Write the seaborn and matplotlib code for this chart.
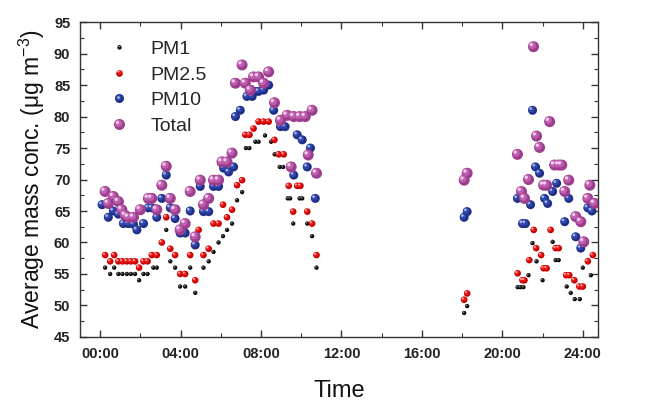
import numpy as np
import pandas as pd
import matplotlib
matplotlib.use("Agg")
import matplotlib.pyplot as plt
import seaborn as sns
from matplotlib.transforms import offset_copy
from matplotlib.legend_handler import HandlerBase
from matplotlib.lines import Line2D
from matplotlib.ticker import MultipleLocator

# ---------------- data (hours of day, ug m-3) ----------------
pm1_t = [0.25, 0.5, 0.7, 0.91, 1.11, 1.33, 1.53, 1.74, 1.94, 2.16, 2.36, 2.65, 2.82,
         3.29, 3.49, 3.73, 3.98, 4.23, 4.48, 4.73, 5.14, 5.4, 5.64, 5.89, 6.11, 6.31,
         6.56, 6.81, 7.06, 7.25, 7.42, 7.72, 7.88, 8.2, 8.5, 8.68, 8.93, 9.1, 9.33,
         9.45, 9.6, 9.92, 10.05, 10.3, 10.54, 10.76,
         18.1, 18.25,
         20.76, 20.9, 21.05, 21.3, 21.5, 21.7, 22.0, 22.5, 22.65, 22.8, 23.2, 23.4,
         23.6, 23.85, 24.0, 24.25, 24.4]
pm1_v = [56, 55, 56, 55, 55, 55, 55, 55, 54, 55, 55, 56, 56,
         62, 57, 56, 53, 53, 56, 52, 56, 57, 58.5, 60, 61, 62,
         63, 66.7, 68, 75, 75, 76, 76, 77, 76, 74, 72, 72, 67,
         67, 63, 67, 67, 63, 61, 56,
         48.8, 49.9,
         52.9, 52.9, 52.9, 54.8, 59.9, 57.0, 54.0, 60.1, 57.2, 57.2, 53.0, 52.0,
         51.0, 51.0, 56.0, 57.2, 54.8]

pm25_t = [0.25, 0.5, 0.7, 0.91, 1.11, 1.33, 1.53, 1.74, 1.94, 2.16, 2.36, 2.57, 2.82,
          3.07, 3.29, 3.49, 3.73, 3.98, 4.23, 4.48, 4.73, 4.9, 5.14, 5.4, 5.64, 5.89,
          6.11, 6.31, 6.56, 6.81, 7.06, 7.22, 7.43, 7.63, 7.88, 8.13, 8.38, 8.67, 8.88,
          9.13, 9.38, 9.6, 9.8, 9.96, 10.3, 10.54, 10.76,
          18.1, 18.25,
          20.76, 21.0, 21.1, 21.34, 21.56, 21.68, 21.93, 22.05, 22.2, 22.4, 22.65, 22.8,
          23.17, 23.33, 23.58, 23.83, 24.0, 24.25, 24.5]
pm25_v = [58, 57, 58, 57, 57, 57, 57, 57, 56, 57, 57, 58, 58,
          60, 64, 59, 58, 55, 55, 58, 54, 62, 58, 59, 63, 63,
          66, 64, 65.2, 69.1, 69.9, 77.1, 77.1, 78.1, 79.2, 79.2, 79.2, 76.3, 74,
          74, 69, 64.9, 69, 69, 64.9, 63, 58,
          50.9, 51.9,
          55.1, 54, 54, 57.2, 62, 59.1, 58, 55.9, 55.9, 62, 59.1, 59.1,
          54.8, 54.8, 54, 53, 53, 57, 58]

pm10_t = [0.1, 0.41, 0.66, 0.91, 1.16, 1.41, 1.66, 1.83, 2.16, 2.4, 2.57, 2.82, 3.07,
          3.29, 3.49, 3.73, 3.98, 4.23, 4.48, 4.73, 4.98, 5.14, 5.4, 5.64, 5.89, 6.14,
          6.39, 6.64, 6.73, 6.97, 7.3, 7.56, 7.72, 7.88, 8.13, 8.38, 8.63, 8.97, 9.2,
          9.63, 9.8, 10.05, 10.3, 10.46, 10.7,
          18.1, 18.25,
          20.75, 21.0, 21.15, 21.4, 21.5, 21.65, 21.85, 22.1, 22.25, 22.5, 22.7, 23.1,
          23.3, 23.65, 23.9, 24.25, 24.45]
pm10_v = [66, 64, 65, 64.5, 63, 63, 62.9, 62, 63, 65.5, 65.5, 64, 67,
          70.7, 65.5, 63.8, 61.5, 61.5, 65, 59.6, 68.9, 64.9, 64.9, 68.9, 68.9, 71.8,
          71.2, 72, 80, 81, 83.2, 83.2, 84, 84, 84.2, 85, 81, 78.4, 78.4,
          70.7, 77.1, 76.3, 72, 75, 67,
          64.0, 64.9,
          67, 63, 63, 66, 81, 72, 71, 67, 66.2, 68.1, 69.4, 63.3,
          67, 60.9, 59.1, 65.5, 65]

tot_t = [0.25, 0.41, 0.66, 0.91, 1.08, 1.25, 1.41, 1.66, 2.0, 2.4, 2.57, 2.82, 3.07,
         3.29, 3.49, 3.73, 3.98, 4.23, 4.48, 4.73, 4.98, 5.14, 5.4, 5.64, 5.89, 6.06,
         6.31, 6.56, 6.73, 7.06, 7.22, 7.47, 7.63, 7.88, 8.13, 8.38, 8.67, 8.97, 9.3,
         9.5, 9.63, 9.93, 10.2, 10.35, 10.54, 10.76,
         18.1, 18.25,
         20.75, 20.95, 21.1, 21.3, 21.55, 21.7, 21.85, 22.05, 22.2, 22.35, 22.6, 22.8,
         22.95, 23.1, 23.3, 23.65, 23.9, 24.05, 24.25, 24.35, 24.58]
tot_v = [68.1, 66.2, 67.3, 66.5, 65.2, 64.3, 64, 64, 65.2, 67, 67, 65.2, 69.1,
         72.1, 67, 65.2, 62, 63, 68.1, 60.9, 69.9, 66, 67, 69.9, 69.9, 72.8,
         72.8, 74.2, 85.3, 88.2, 85.3, 84.2, 86.3, 86.3, 85.3, 87.1, 82.2, 79.4, 80.2,
         72, 80, 80, 80, 73.9, 81, 71,
         69.9, 71.0,
         74, 68.1, 67, 70, 91.1, 76.9, 75.1, 69.1, 69.1, 79.2, 72.3, 72.3,
         72.3, 68.1, 69.9, 64.1, 63.3, 60.1, 67, 69.1, 66.2]

labels = ["PM1", "PM2.5", "PM10", "Total"]
xtick_labels = ["00:00", "04:00", "08:00", "12:00", "16:00", "20:00", "24:00"]

# ---------------- style ----------------
sns.set_theme(style="ticks")
plt.rcParams['font.family'] = ['Liberation Sans', 'DejaVu Sans']
plt.rcParams['mathtext.fontset'] = 'custom'
plt.rcParams['mathtext.rm'] = 'Liberation Sans'
plt.rcParams['mathtext.default'] = 'regular'

# (base, mid, highlight, diameter px)
styles = {
    "PM1":   ("#000000", "#2a2a2a", "#9a9a9a", 4.3),
    "PM2.5": ("#c80000", "#ee1c1c", "#ffb4b4", 6.6),
    "PM10":  ("#1f2f86", "#3048ad", "#a8b6e6", 9.0),
    "Total": ("#9c3d8d", "#bd5eae", "#f3cdea", 11.0),
}
data = {"PM1": (pm1_t, pm1_v), "PM2.5": (pm25_t, pm25_v),
        "PM10": (pm10_t, pm10_v), "Total": (tot_t, tot_v)}

df = pd.concat([pd.DataFrame({"time": data[k][0], "conc": data[k][1], "series": k})
                for k in labels], ignore_index=True)

fig = plt.figure(figsize=(6.45, 4.03), dpi=100)
ax = fig.add_axes([0.124, 0.164, 0.803, 0.781])

pt = 72.0 / fig.dpi
z = 3
for k in labels:
    base, mid, hl, d = styles[k]
    sub = df[df.series == k]
    dpt = d * pt
    sns.scatterplot(data=sub, x="time", y="conc", color=base, s=dpt ** 2,
                    edgecolor="none", linewidth=0, ax=ax, legend=False, zorder=z)
    tr1 = offset_copy(ax.transData, fig=fig, x=-0.12 * dpt, y=0.12 * dpt, units="points")
    ax.scatter(sub.time, sub.conc, s=(0.68 * dpt) ** 2, color=mid, edgecolor="none",
               transform=tr1, zorder=z + 0.1)
    tr2 = offset_copy(ax.transData, fig=fig, x=-0.2 * dpt, y=0.2 * dpt, units="points")
    ax.scatter(sub.time, sub.conc, s=(0.3 * dpt) ** 2, color=hl, edgecolor="none",
               transform=tr2, zorder=z + 0.2)
    z += 1

ax.set_xlim(-1, 24.75)
ax.set_ylim(45, 95)
ax.xaxis.set_major_locator(MultipleLocator(4))
ax.xaxis.set_minor_locator(MultipleLocator(2))
ax.set_xticks(range(0, 25, 4))
ax.set_xticklabels(xtick_labels)
ax.yaxis.set_major_locator(MultipleLocator(5))
ax.yaxis.set_minor_locator(MultipleLocator(2.5))
ax.tick_params(which="both", direction="in", top=True, right=True, color="#333333")
ax.tick_params(which="major", length=5, width=1, labelsize=10.5, pad=7)
ax.tick_params(which="minor", length=3, width=0.8)
for lab in ax.get_xticklabels() + ax.get_yticklabels():
    lab.set_fontweight("bold")
    lab.set_color("#222222")
for s in ax.spines.values():
    s.set_color("#333333")
    s.set_linewidth(1.0)

ax.set_xlabel("Time", fontsize=17, labelpad=14, color="#111111")
ax.set_ylabel("Average mass conc. (μg m$^{-3}$)", fontsize=16.5, labelpad=5, color="#111111")


class SphereHandler(HandlerBase):
    def create_artists(self, legend, orig_handle, xdescent, ydescent, width, height,
                       fontsize, trans):
        key = orig_handle.get_label()
        base, mid, hl, d = styles[key]
        dpt = d * pt
        cx = 0.5 * width - xdescent
        cy = 0.5 * height - ydescent
        a = Line2D([cx], [cy], marker="o", ms=dpt, color=base, mec="none", ls="none",
                   transform=trans)
        b = Line2D([cx - 0.12 * dpt], [cy + 0.12 * dpt], marker="o", ms=0.68 * dpt,
                   color=mid, mec="none", ls="none", transform=trans)
        c = Line2D([cx - 0.2 * dpt], [cy + 0.2 * dpt], marker="o", ms=0.3 * dpt,
                   color=hl, mec="none", ls="none", transform=trans)
        return [a, b, c]


handles = [Line2D([], [], label=k) for k in labels]
ax.legend(handles=handles, labels=labels, handler_map={Line2D: SphereHandler()},
          loc="upper left", bbox_to_anchor=(0.035, 0.98), frameon=False,
          fontsize=14, handlelength=1.0, handletextpad=1.1, labelspacing=0.42,
          borderaxespad=0.2)

fig.savefig("out.png", dpi=100)
